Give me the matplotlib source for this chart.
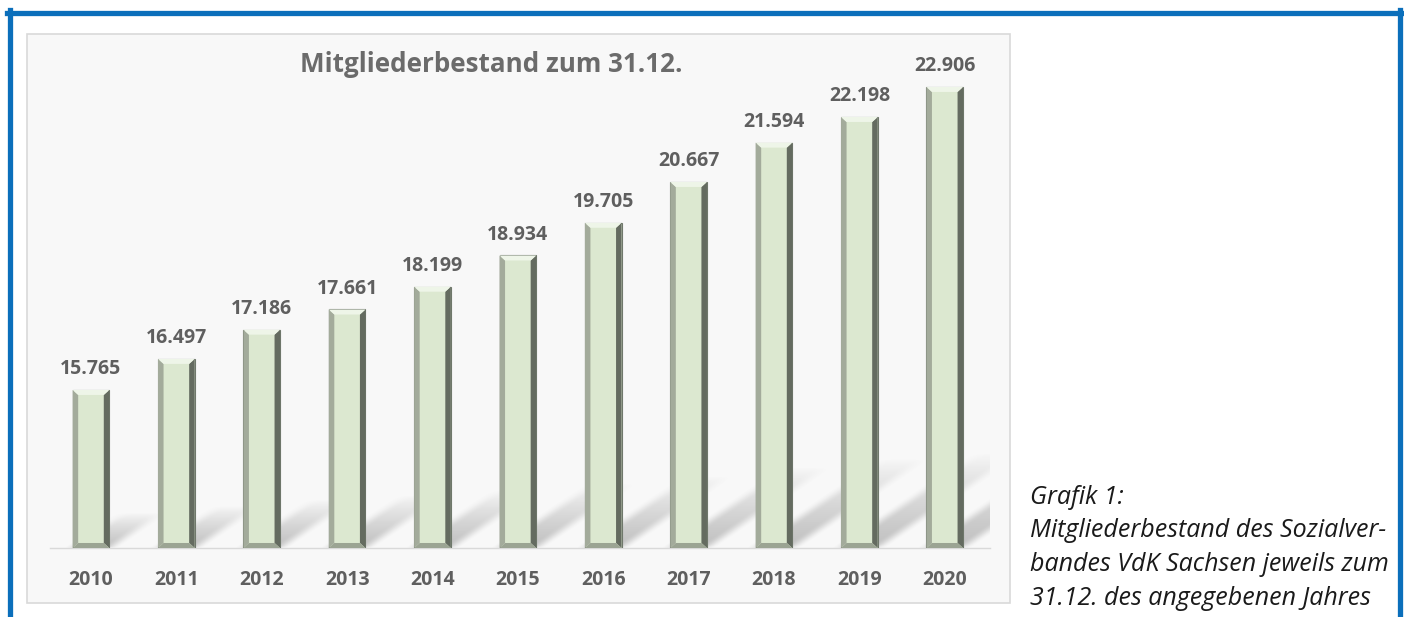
import numpy as np
import matplotlib.pyplot as plt
from matplotlib.patches import Polygon, Rectangle
from matplotlib.lines import Line2D

# data
years = ['2010', '2011', '2012', '2013', '2014', '2015', '2016', '2017', '2018', '2019', '2020']
members = [15765, 16497, 17186, 17661, 18199, 18934, 19705, 20667, 21594, 22198, 22906]
value_labels = ['15.765', '16.497', '17.186', '17.661', '18.199', '18.934',
                '19.705', '20.667', '21.594', '22.198', '22.906']
title = 'Mitgliederbestand zum 31.12.'
caption = ['Grafik 1:',
           'Mitgliederbestand des Sozialver-',
           'bandes VdK Sachsen jeweils zum',
           '31.12. des angegebenen Jahres']

W, H = 1404, 617
fig = plt.figure(figsize=(W / 100, H / 100), dpi=100)
fig.patch.set_facecolor('white')

def fx(px):
    return px / W

def fy(py):
    return 1 - py / H

# blue frame (open at the bottom)
blue = '#0b6fbb'
fig.add_artist(Line2D([fx(9.5), fx(9.5)], [fy(617), fy(10)], color=blue, lw=3.8, transform=fig.transFigure))
fig.add_artist(Line2D([fx(1399.5), fx(1399.5)], [fy(617), fy(10)], color=blue, lw=3.8, transform=fig.transFigure))
fig.add_artist(Line2D([fx(7), fx(1402)], [fy(12.5), fy(12.5)], color=blue, lw=3.8, transform=fig.transFigure))

# chart box
fig.add_artist(Rectangle((fx(27), fy(603)), fx(1010 - 27), (603 - 34) / H, transform=fig.transFigure,
                         facecolor='#f8f8f8', edgecolor='#d9d9d9', lw=1.2, zorder=0))

ymin, ymax = 12040, 23541
x0, x1 = -0.48, 10.53
ax = fig.add_axes([fx(50), fy(548), fx(990 - 50), (548 - 60) / H])
ax.patch.set_alpha(0)

x = list(range(len(years)))
width = 0.43

# soft shadows on the floor, rendered as an alpha map
def soft(u, w):
    s = np.clip((u + w) / (2 * w), 0, 1)
    return s * s * (3 - 2 * s)

ytop = ymin + 3000
gx, gy = np.meshgrid(np.linspace(x0, x1, 940), np.linspace(ymin, ytop, 130))
keep = np.ones_like(gx)
for xi, v in zip(x, members):
    h = v - ymin
    dx = h * 1.6e-4
    dy = h * 0.218
    xl = xi - width / 2
    t = (gy - ymin) / dy
    s = (gx - dx * t - xl) / width
    a = 0.42 * soft(t, 0.04) * np.clip(1 - t, 0, 1) ** 0.8 * soft(s, 0.26) * soft(1 - s, 0.26)
    keep *= 1 - a
shadow = np.zeros(gx.shape + (4,))
shadow[..., :3] = 0.45
shadow[..., 3] = 1 - keep
ax.imshow(shadow, extent=[x0, x1, ymin, ytop], origin='lower', aspect='auto',
          interpolation='bilinear', zorder=1)
ax.set_xlim(x0, x1)
ax.set_ylim(ymin, ymax)

# bars with bevel
bars = ax.bar(x, [v - ymin for v in members], width=width, bottom=ymin,
              color='#dce8d0', edgecolor='#6f786b', lw=0.8, zorder=3)
bw, bh = 0.065, 118
for b in bars:
    xl = b.get_x()
    xr = xl + b.get_width()
    y0 = b.get_y()
    top = y0 + b.get_height()
    ax.add_patch(Polygon([(xl, y0), (xl + bw, y0 + bh), (xl + bw, top - bh), (xl, top)],
                         facecolor='#a3ab9b', edgecolor='none', zorder=4))
    ax.add_patch(Polygon([(xr, y0), (xr - bw, y0 + bh), (xr - bw, top - bh), (xr, top)],
                         facecolor='#646b60', edgecolor='none', zorder=4))
    ax.add_patch(Polygon([(xl, top), (xr, top), (xr - bw, top - bh), (xl + bw, top - bh)],
                         facecolor='#eef5e8', edgecolor='none', zorder=4))
    ax.add_patch(Polygon([(xl, y0), (xr, y0), (xr - bw, y0 + bh), (xl + bw, y0 + bh)],
                         facecolor='#9ba493', edgecolor='none', zorder=4))

for xi, v, lab in zip(x, members, value_labels):
    ax.annotate(lab, (xi, v), xytext=(0, 15), textcoords='offset points',
                ha='center', va='center', fontsize=14, fontweight='bold',
                color='#5f5f5f', family='Open Sans')

for s in ['top', 'right', 'left']:
    ax.spines[s].set_visible(False)
ax.spines['bottom'].set_color('#d9d9d9')
ax.spines['bottom'].set_linewidth(1)
ax.set_yticks([])
ax.set_xticks(x)
ax.set_xticklabels(years, fontsize=14, fontweight='bold', color='#5f5f5f', family='Open Sans')
ax.tick_params(axis='x', length=0, pad=16)

fig.text(fx(491), fy(65), title, ha='center', va='center', fontsize=18.7,
         fontweight='bold', color='#6b6b6b', family='Open Sans')

for i, line in enumerate(caption):
    fig.text(fx(1030), fy(497 + i * 33.7), line, ha='left', va='center',
             fontsize=18, style='italic', color='#1a1a1a', family='Open Sans')

fig.savefig('out.png', dpi=100)
